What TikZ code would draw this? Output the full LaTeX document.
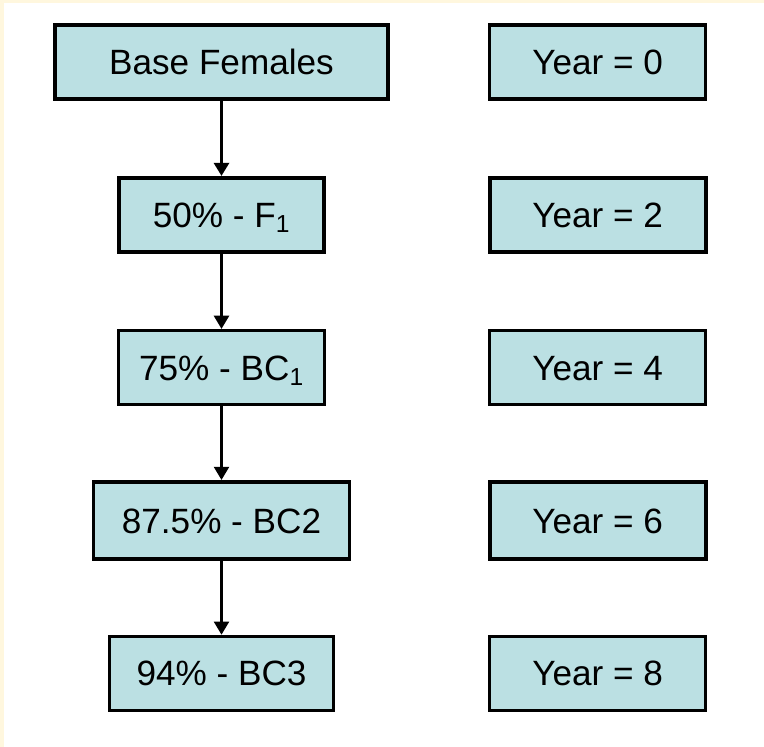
\documentclass[tikz,border=0pt]{standalone}
\usepackage{fontspec}
\setmainfont{Liberation Sans}
\usetikzlibrary{arrows.meta,positioning}
\definecolor{boxfill}{RGB}{187,224,227}
\definecolor{cream}{RGB}{255,247,222}

\begin{document}
\begin{tikzpicture}[
    stagebox/.style={draw, fill=boxfill, line width=2.2pt, inner sep=0pt,
        minimum height=1.85cm, text height=18pt, text depth=0pt,
        font=\fontsize{25}{30}\selectfont},
    yearbox/.style={stagebox, minimum width=5.4cm},
    flow/.style={-{Triangle[width=0.375cm,length=0.33cm]}, line width=1.8pt}
]
    \fill[white] (0,0) rectangle (19.1,-18.675);
    \fill[cream] (0,0) rectangle (19.1,-0.075);
    \fill[cream] (0,0) rectangle (0.1,-18.675);
    \useasboundingbox (0,0) rectangle (19.1,-18.675);

    \node[stagebox, minimum width=8.33cm, line width=2.8pt] (base) at (5.5375,-1.55) {Base Females};
    \node[stagebox, minimum width=5.14cm, line width=2.8pt, below = 1.875cm of base] (f1) {50\% - F\textsubscript{1}};
    \node[stagebox, minimum width=5.17cm, below = 1.875cm of f1] (bc1) {75\% - BC\textsubscript{1}};
    \node[stagebox, minimum width=6.4cm, minimum height=1.92cm, line width=2.8pt, below = 1.85cm of bc1] (bc2) {87.5\% - BC2};
    \node[stagebox, minimum width=5.6cm, below = 1.85cm of bc2] (bc3) {94\% - BC3};

    \node[yearbox] (yr0) at (14.94,-1.55) {Year = 0};
    \node[yearbox, line width=2.8pt] (yr2) at (f1 -| yr0) {Year = 2};
    \node[yearbox] (yr4) at (bc1 -| yr0) {Year = 4};
    \node[yearbox, minimum height=1.92cm, line width=2.8pt] (yr6) at (bc2 -| yr0) {Year = 6};
    \node[yearbox] (yr8) at (bc3 -| yr0) {Year = 8};

    \draw[flow, line width=2.8pt] (base) -- (f1);
    \draw[flow] (f1) -- (bc1);
    \draw[flow] (bc1) -- (bc2);
    \draw[flow] (bc2) -- (bc3);
\end{tikzpicture}
\end{document}
